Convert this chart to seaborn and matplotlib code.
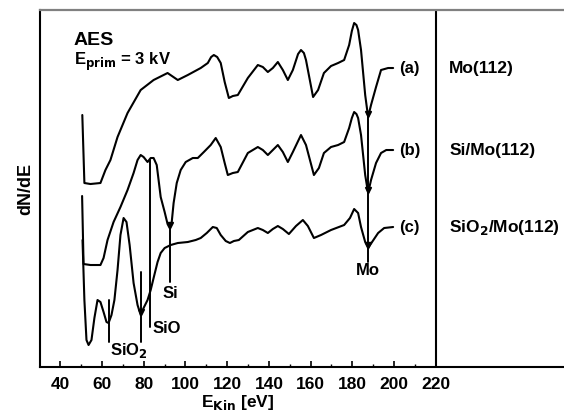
import matplotlib
matplotlib.use("Agg")
import matplotlib.pyplot as plt
import seaborn as sns
import pandas as pd

# AES spectra (energy in eV, dN/dE in arbitrary units, offset per curve)
e_a = [50.5, 51.5, 54.4, 59.2, 61.6, 64.0, 67.4, 72.2, 78.5, 84.7, 91.4, 96.3, 101.1, 107.3,
       110.7, 112.3, 113.6, 115.2, 116.9, 118.8, 120.8, 122.7, 125.1, 129.9, 134.7, 137.1, 139.5,
       141.9, 144.3, 146.7, 149.1, 151.5, 154.0, 155.4, 156.8, 157.8, 161.2, 163.6, 166.4, 169.8,
       173.2, 176.1, 178.5, 179.8, 180.9, 182.0, 182.8, 184.2, 186.2, 187.6, 189.0, 191.4, 193.8,
       197.2, 199.6]
dn_a = [252, 184, 183, 184, 197, 207, 230, 254, 277, 287, 294, 287, 292, 299,
        304, 310, 312, 310, 304, 285, 269, 271, 272, 289, 302, 300, 295,
        299, 305, 297, 287, 297, 313, 317, 314, 307, 270, 277, 294, 301,
        304, 307, 322, 336, 344, 342, 337, 317, 272, 250, 262, 280, 297,
        299, 299]

e_b = [50.4, 51.1, 54.4, 59.2, 60.7, 62.6, 65.5, 68.8, 72.2, 75.1, 77.0, 78.5, 79.9, 81.8,
       83.3, 84.7, 86.2, 88.1, 90.0, 91.4, 92.4, 93.4, 94.3, 95.8, 97.7, 100.1, 103.5, 105.9,
       108.8, 112.1, 114.5, 116.9, 118.8, 120.3, 122.7, 125.1, 129.9, 134.7, 137.1, 139.5,
       141.9, 144.3, 146.7, 149.1, 151.5, 155.4, 157.8, 161.6, 164.0, 166.4, 169.8, 173.2,
       176.1, 178.5, 179.8, 180.9, 182.0, 182.8, 184.2, 186.2, 187.6, 189.0, 191.4, 193.8,
       196.3, 199.6]
dn_b = [171, 103, 102, 102, 109, 127, 145, 160, 177, 194, 207, 212, 210, 205,
        209, 209, 202, 170, 155, 143, 139, 145, 164, 184, 197, 205, 209, 209,
        215, 222, 229, 220, 204, 192, 194, 195, 214, 220, 217, 212,
        217, 222, 215, 205, 215, 232, 222, 192, 199, 214, 220, 222,
        225, 239, 249, 255, 253, 249, 232, 192, 174, 187, 204, 214,
        217, 217]

e_c = [50.6, 51.5, 52.5, 53.5, 54.9, 56.3, 57.8, 59.2, 60.7, 62.1, 63.1, 64.5, 65.9, 67.4,
       68.8, 70.3, 71.7, 73.2, 75.1, 77.0, 78.5, 79.9, 81.8, 83.3, 84.7, 86.6, 88.1, 90.0,
       92.9, 96.3, 101.1, 104.9, 107.3, 110.2, 113.1, 115.0, 116.9, 119.3, 121.3, 123.2,
       125.6, 129.9, 134.7, 137.1, 139.5, 141.9, 144.3, 146.7, 149.6, 153.0, 156.3, 158.7,
       161.6, 165.0, 169.8, 176.1, 178.9, 180.9, 182.8, 184.2, 186.2, 187.6, 189.5, 192.4,
       195.3, 199.6]
dn_c = [127, 67, 27, 22, 27, 49, 67, 65, 55, 45, 44, 52, 67, 97,
        132, 149, 145, 122, 84, 62, 52, 59, 67, 77, 89, 105, 114, 119,
        122, 124, 125, 127, 129, 134, 140, 139, 132, 126, 124, 126,
        127, 135, 139, 137, 134, 138, 141, 138, 133, 141, 147, 141,
        129, 132, 137, 142, 149, 158, 154, 140, 125, 119, 125, 134,
        139, 140]

curve_tags = ["(a)", "(b)", "(c)"]
sample_names = ["Mo(112)", "Si/Mo(112)", "SiO$_\\mathbf{2}$/Mo(112)"]

# peak markers: energy, top and bottom of the vertical line, level of the arrow head
mark_e = [63.1, 78.5, 82.8, 92.4, 187.6]
mark_top = [67, 95, 207, 139, 250]
mark_bot = [25, 25, 40, 85, 105]
arrow_e = [78.5, 92.4, 187.6, 187.6, 187.6]
arrow_dn = [52, 139, 250, 174, 119]

sns.set_style("white")
plt.rcParams["font.family"] = ["Liberation Sans", "DejaVu Sans"]
plt.rcParams["font.weight"] = "bold"
plt.rcParams["axes.labelweight"] = "bold"
plt.rcParams["text.color"] = "black"
plt.rcParams["xtick.color"] = "black"
plt.rcParams["axes.labelcolor"] = "black"
plt.rcParams["mathtext.default"] = "bf"

fig = plt.figure(figsize=(5.64, 4.12), dpi=100)
ax = fig.add_axes([0.0709, 0.1092, 0.927, 0.8665])

for e, dn in [(e_a, dn_a), (e_b, dn_b), (e_c, dn_c)]:
    df = pd.DataFrame({"E": e, "dN": dn})
    sns.lineplot(data=df, x="E", y="dN", color="black", lw=1.5, sort=False, ax=ax,
                 solid_joinstyle="round")

for e, top, bot in zip(mark_e, mark_top, mark_bot):
    ax.plot([e, e], [bot, top], color="black", lw=1.4)
ax.plot(arrow_e, [d + 3 for d in arrow_dn], ls="none", marker="v", color="black", ms=4.5)

# curve tags and sample names
for tag, name, e_end, dn_end in zip(curve_tags, sample_names, [e_a, e_b, e_c], [dn_a, dn_b, dn_c]):
    ax.text(e_end[-1] + 3, dn_end[-1], tag, fontsize=12, va="center", ha="left")
    ax.text(226.5, dn_end[-1], name, fontsize=12.5, va="center", ha="left")

ax.text(72.7, 17, "SiO$_2$", fontsize=12, ha="center", va="center")
ax.text(84.2, 39, "SiO", fontsize=12, ha="left", va="center")
ax.text(92.9, 74, "Si", fontsize=12, ha="center", va="center")
ax.text(187.6, 97, "Mo", fontsize=12, ha="center", va="center")

ax.text(46.5, 327, "AES", fontsize=14, ha="left", va="center")
ax.text(46.5, 305, "E$_{prim}$ = 3 kV", fontsize=12, ha="left", va="center")

ax.axvline(220, color="black", lw=1.5)

ax.set_xlim(30.2, 281)
ax.set_ylim(0, 357)
ax.set_xticks(range(40, 221, 20))
ax.set_xticks(range(50, 211, 10), minor=True)
ax.set_yticks([])
ax.tick_params(axis="x", which="both", direction="in", bottom=True, labelsize=12.5, pad=7)
ax.tick_params(axis="x", which="major", length=4, width=1.2)
ax.tick_params(axis="x", which="minor", length=2.5, width=1)
ax.set_xlabel("")
ax.set_ylabel("dN/dE", fontsize=13, labelpad=4)
ax.text(125, -35, "E$_{Kin}$ [eV]", fontsize=12.5, ha="center", va="center")

for side in ["left", "bottom"]:
    ax.spines[side].set_color("black")
    ax.spines[side].set_linewidth(1.5)
ax.spines["top"].set_color("#808080")
ax.spines["top"].set_linewidth(1.6)
ax.spines["right"].set_visible(False)

fig.savefig("out.png", dpi=100)
